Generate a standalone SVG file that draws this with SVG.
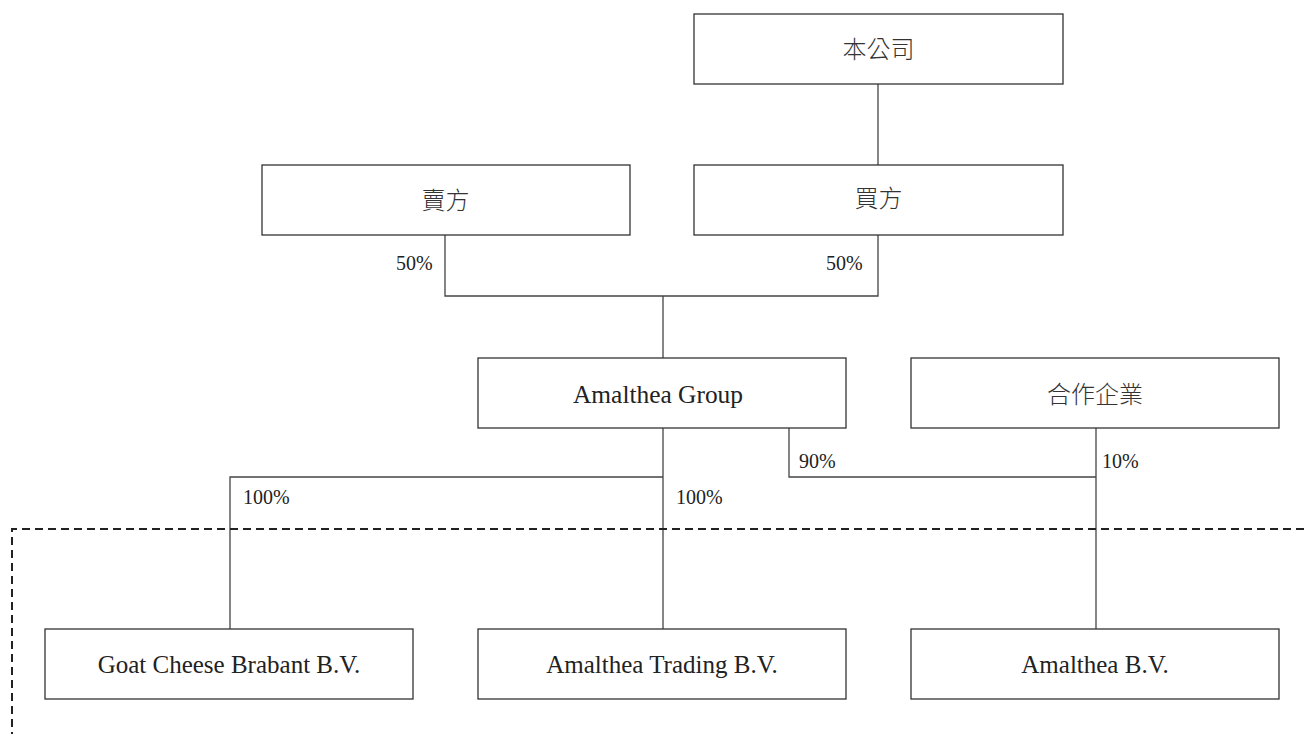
<svg xmlns="http://www.w3.org/2000/svg" width="1304" height="734" viewBox="0 0 1304 734">
<style>
.box{fill:#fff;stroke:#333;stroke-width:1.3}
.ln{stroke:#444;stroke-width:1.3;fill:none}
.dash{stroke:#222;stroke-width:2;fill:none;stroke-dasharray:8 5}
.en{font-family:"Liberation Serif","Times New Roman",serif;font-size:25px;fill:#222;text-anchor:middle}
.cjk{font-family:"Noto Sans CJK TC","Noto Sans CJK SC",sans-serif;font-size:24px;font-weight:300;fill:#333;text-anchor:middle}
.pct{font-family:"Liberation Serif","Times New Roman",serif;font-size:20px;fill:#222}
</style>
<rect width="1304" height="734" fill="#fff"/>
<g id="connectors">
<line class="ln" x1="878" y1="84" x2="878" y2="165"/>
<polyline class="ln" points="445,235 445,296 878,296 878,235"/>
<line class="ln" x1="663" y1="296" x2="663" y2="358"/>
<line class="ln" x1="663" y1="428" x2="663" y2="629"/>
<polyline class="ln" points="663,477 230,477 230,629"/>
<polyline class="ln" points="789,428 789,477 1096,477"/>
<line class="ln" x1="1096" y1="428" x2="1096" y2="629"/>
<text class="pct" x="396" y="270">50%</text>
<text class="pct" x="826" y="270">50%</text>
<text class="pct" x="799" y="468">90%</text>
<text class="pct" x="1102" y="468">10%</text>
<text class="pct" x="243" y="504">100%</text>
<text class="pct" x="676" y="504">100%</text>
</g>
<g id="boundary">
<polyline class="dash" points="1304,529 12,529 12,734"/>
</g>
<g id="n-company"><rect class="box" x="694" y="14" width="369" height="70"/><text class="cjk" x="878.5" y="57.5">本公司</text></g>
<g id="n-seller"><rect class="box" x="262" y="165" width="368" height="70"/><text class="cjk" x="445.5" y="208.5">賣方</text></g>
<g id="n-buyer"><rect class="box" x="694" y="165" width="369" height="70"/><text class="cjk" x="878.5" y="207">買方</text></g>
<g id="n-amalthea-group"><rect class="box" x="478" y="358" width="368" height="70"/><text class="en" x="658" y="403" textLength="170" lengthAdjust="spacingAndGlyphs">Amalthea Group</text></g>
<g id="n-jv"><rect class="box" x="911" y="358" width="368" height="70"/><text class="cjk" x="1095" y="403">合作企業</text></g>
<g id="n-goat"><rect class="box" x="45" y="629" width="368" height="70"/><text class="en" x="229" y="673">Goat Cheese Brabant B.V.</text></g>
<g id="n-trading"><rect class="box" x="478" y="629" width="368" height="70"/><text class="en" x="662" y="673">Amalthea Trading B.V.</text></g>
<g id="n-bv"><rect class="box" x="911" y="629" width="368" height="70"/><text class="en" x="1095" y="673">Amalthea B.V.</text></g>
</svg>
